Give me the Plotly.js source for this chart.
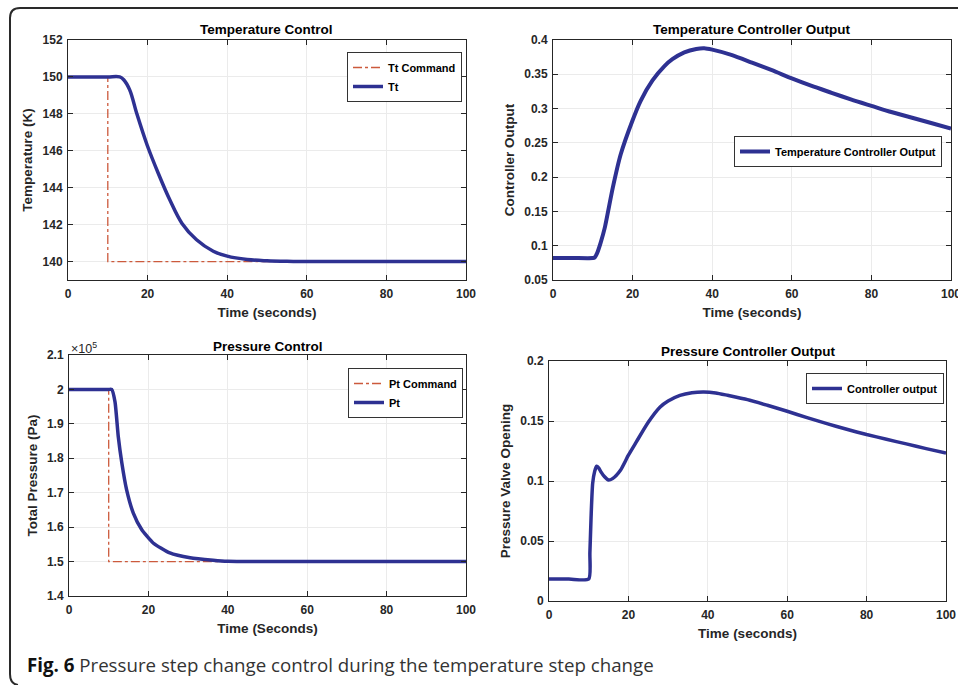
<!DOCTYPE html>
<html>
<head>
<meta charset="utf-8">
<script src="https://cdn.plot.ly/plotly-3.0.1.min.js"></script>
<style>
html,body{margin:0;padding:0;background:#fff;}
#chart{width:958px;height:685px;}
</style>
</head>
<body>
<div id="chart"></div>
<script>
// ---- Data ----
// Temperature control
const ttCmdTime = [0, 10, 10, 100];
const ttCmd = [150, 150, 140, 140];
const ttTime = [0, 5, 10, 13, 14, 15.5, 17.3, 19.9, 22.7, 25.6, 28.6, 32.3, 36.5, 40, 45, 50, 55, 60, 70, 80, 90, 100];
const tt = [150, 150, 150, 150, 149.85, 149.3, 148.0, 146.3, 144.77, 143.33, 142.08, 141.18, 140.56, 140.29, 140.11, 140.04, 140.01, 140, 140, 140, 140, 140];

// Temperature controller output
const tcoTime = [0, 5, 10, 10.5, 11, 12, 13, 15, 17, 20, 22, 25, 28, 30, 33, 36, 38, 40, 45, 50, 55, 60, 65, 70, 75, 80, 85, 90, 95, 100];
const tco = [0.082, 0.082, 0.082, 0.083, 0.088, 0.105, 0.126, 0.184, 0.233, 0.283, 0.311, 0.341, 0.362, 0.372, 0.382, 0.387, 0.388, 0.386, 0.378, 0.367, 0.356, 0.344, 0.333, 0.323, 0.313, 0.304, 0.295, 0.287, 0.279, 0.271];

// Pressure control (Pa)
const ptCmdTime = [0, 10, 10, 100];
const ptCmd = [200000, 200000, 150000, 150000];
const ptTime = [0, 5, 10, 10.75, 11.6, 12.4, 13.3, 14.5, 16.2, 18.3, 21.2, 25.4, 30.5, 36.3, 40, 50, 60, 80, 100];
const pt = [200000, 200000, 200000, 200000, 196300, 186400, 178700, 170900, 164100, 159300, 155400, 152500, 151100, 150400, 150100, 150000, 150000, 150000, 150000];
const ptTickVals = [140000, 150000, 160000, 170000, 180000, 190000, 200000, 210000];
const ptTickText = ['1.4', '1.5', '1.6', '1.7', '1.8', '1.9', '2', '2.1'];

// Pressure controller output
const pcoTime = [0, 5, 10, 10.3, 10.6, 11, 11.5, 12, 12.5, 13, 14, 15, 16, 18, 20, 22, 25, 28, 30, 33, 36, 39, 42, 45, 50, 55, 60, 65, 70, 75, 80, 85, 90, 95, 100];
const pco = [0.0183, 0.0183, 0.0183, 0.04, 0.07, 0.098, 0.108, 0.1123, 0.111, 0.108, 0.1035, 0.1008, 0.102, 0.109, 0.1215, 0.1326, 0.149, 0.1617, 0.1667, 0.1714, 0.1736, 0.1742, 0.1734, 0.1714, 0.1678, 0.1631, 0.1581, 0.1528, 0.1478, 0.1431, 0.1387, 0.1348, 0.1309, 0.127, 0.1234];

// ---- Styling ----
const BLUE = '#2e3192';
const RED = '#cc5a3c';
const AX = '#262626';
const FONT = 'Liberation Sans, Arial, sans-serif';

function xax(domain, anchor, title) {
  return {
    domain: domain, anchor: anchor, range: [0, 100], dtick: 20, tick0: 0,
    showline: true, linecolor: AX, linewidth: 1, mirror: 'ticks',
    ticks: 'inside', ticklen: 5, tickcolor: AX,
    showgrid: true, gridcolor: '#ebebeb', zeroline: false,
    ticklabeloverflow: 'allow', ticklabelstandoff: 3,
    tickfont: {family: FONT, size: 12, color: AX, weight: 'bold'},
    title: {text: '<b>' + title + '</b>', font: {family: FONT, size: 13.5, color: AX}, standoff: 7}
  };
}
function yax(domain, anchor, range, extra, title) {
  const a = {
    domain: domain, anchor: anchor, range: range,
    showline: true, linecolor: AX, linewidth: 1, mirror: 'ticks',
    ticks: 'inside', ticklen: 5, tickcolor: AX,
    showgrid: true, gridcolor: '#ebebeb', zeroline: false,
    ticklabeloverflow: 'allow', ticklabelstandoff: 2,
    tickfont: {family: FONT, size: 12, color: AX, weight: 'bold'},
    title: {text: '<b>' + title + '</b>', font: {family: FONT, size: 13.5, color: AX}, standoff: 6}
  };
  return Object.assign(a, extra);
}

const traces = [
  {x: ttCmdTime, y: ttCmd, xaxis: 'x', yaxis: 'y', name: '<b>Tt Command</b>', mode: 'lines',
   line: {color: RED, width: 1.3, dash: 'dashdot'}, legend: 'legend'},
  {x: ttTime, y: tt, xaxis: 'x', yaxis: 'y', name: '<b>Tt</b>', mode: 'lines',
   line: {color: BLUE, width: 3.5, shape: 'spline', smoothing: 1}, legend: 'legend'},
  {x: tcoTime, y: tco, xaxis: 'x2', yaxis: 'y2', name: '<b>Temperature Controller Output</b>', mode: 'lines',
   line: {color: BLUE, width: 4, shape: 'spline', smoothing: 0.6}, legend: 'legend2'},
  {x: ptCmdTime, y: ptCmd, xaxis: 'x3', yaxis: 'y3', name: '<b>Pt Command</b>', mode: 'lines',
   line: {color: RED, width: 1.3, dash: 'dashdot'}, legend: 'legend3'},
  {x: ptTime, y: pt, xaxis: 'x3', yaxis: 'y3', name: '<b>Pt</b>', mode: 'lines',
   line: {color: BLUE, width: 3.5, shape: 'spline', smoothing: 0.5}, legend: 'legend3'},
  {x: pcoTime, y: pco, xaxis: 'x4', yaxis: 'y4', name: '<b>Controller output</b>', mode: 'lines',
   line: {color: BLUE, width: 3.5, shape: 'spline', smoothing: 0.6}, legend: 'legend4'}
];

const W = 958, H = 685;
const px = v => v / W;
const py = v => 1 - v / H;

function leg(x, y) {
  return {x: px(x), y: py(y), xanchor: 'left', yanchor: 'top', xref: 'paper', yref: 'paper',
    bgcolor: '#ffffff', bordercolor: '#333333', borderwidth: 1,
    font: {family: FONT, size: 11, color: '#000'}, tracegroupgap: 0, itemwidth: 30};
}

const layout = {
  width: W, height: H,
  margin: {l: 0, r: 0, t: 0, b: 0},
  paper_bgcolor: '#ffffff', plot_bgcolor: '#ffffff',
  showlegend: true,
  xaxis: xax([px(68), px(466)], 'y', 'Time (seconds)'),
  yaxis: yax([py(280), py(40)], 'x', [139, 152], {dtick: 2, tick0: 140}, 'Temperature (K)'),
  xaxis2: xax([px(553), px(951)], 'y2', 'Time (seconds)'),
  yaxis2: yax([py(280), py(40)], 'x2', [0.05, 0.4], {dtick: 0.05, tick0: 0.05}, 'Controller Output'),
  xaxis3: xax([px(69), px(466)], 'y3', 'Time (Seconds)'),
  yaxis3: yax([py(596), py(355)], 'x3', [140000, 210000], {tickvals: ptTickVals, ticktext: ptTickText}, 'Total Pressure (Pa)'),
  xaxis4: xax([px(549), px(946)], 'y4', 'Time (seconds)'),
  yaxis4: yax([py(601), py(361)], 'x4', [0, 0.2], {dtick: 0.05, tick0: 0}, 'Pressure Valve Opening'),
  legend: leg(347, 52),
  legend2: leg(734, 136),
  legend3: leg(348, 368),
  legend4: leg(806, 373),
  annotations: [
    {text: '<b>Temperature Control</b>', x: px(266), y: py(30), xref: 'paper', yref: 'paper', showarrow: false,
     font: {family: FONT, size: 13.5, color: '#000'}, xanchor: 'center', yanchor: 'middle'},
    {text: '<b>Temperature Controller Output</b>', x: px(752), y: py(30), xref: 'paper', yref: 'paper', showarrow: false,
     font: {family: FONT, size: 13.5, color: '#000'}, xanchor: 'center', yanchor: 'middle'},
    {text: '<b>Pressure Control</b>', x: px(268), y: py(346), xref: 'paper', yref: 'paper', showarrow: false,
     font: {family: FONT, size: 13.5, color: '#000'}, xanchor: 'center', yanchor: 'middle'},
    {text: '<b>Pressure Controller Output</b>', x: px(748), y: py(351), xref: 'paper', yref: 'paper', showarrow: false,
     font: {family: FONT, size: 13.5, color: '#000'}, xanchor: 'center', yanchor: 'middle'},
    {text: '×10<sup>5</sup>', x: px(69), y: py(348), xref: 'paper', yref: 'paper', showarrow: false,
     font: {family: FONT, size: 12.5, color: AX}, xanchor: 'left', yanchor: 'middle'},
    {text: '<b>Fig. 6</b> <span style="color:#333">Pressure step change control during the temperature step change</span>',
     x: px(25), y: py(664), xref: 'paper', yref: 'paper', showarrow: false,
     font: {family: 'Open Sans, sans-serif', size: 18.7, color: '#111'}, xanchor: 'left', yanchor: 'middle'}
  ],
  shapes: [
    {type: 'path', xref: 'paper', yref: 'paper',
     path: 'M ' + px(970) + ',' + py(8) + ' L ' + px(20) + ',' + py(8) +
           ' Q ' + px(10) + ',' + py(8) + ' ' + px(10) + ',' + py(18) +
           ' L ' + px(10) + ',' + py(674) +
           ' Q ' + px(10) + ',' + py(684) + ' ' + px(18) + ',' + py(685),
     line: {color: '#2a2a2a', width: 2}}
  ]
};

Plotly.newPlot('chart', traces, layout, {staticPlot: true, displayModeBar: false});
</script>
</body>
</html>
